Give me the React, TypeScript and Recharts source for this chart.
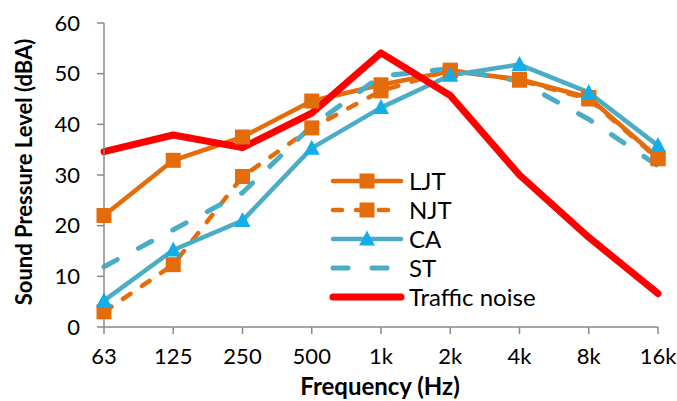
import { Legend, Line, LineChart, XAxis, YAxis } from 'recharts'

const categories = ['63', '125', '250', '500', '1k', '2k', '4k', '8k', '16k']

const ljt = [22.0, 32.9, 37.5, 44.6, 47.8, 50.5, 48.9, 45.3, 33.4]
const njt = [3.0, 12.3, 29.7, 39.3, 46.6, 50.7, 48.7, 45.0, 33.2]
const ca = [5.2, 15.2, 21.0, 35.3, 43.3, 49.7, 51.8, 46.3, 35.8]
const st = [11.9, 19.2, 26.5, 39.7, 49.5, 51.0, 48.5, 41.0, 31.8]
const traffic = [34.6, 37.9, 35.4, 42.2, 54.1, 45.7, 30.0, 17.7, 6.6]

const yTicks = [0, 10, 20, 30, 40, 50, 60]

const ORANGE = '#E46C0A'
const TEAL = '#4BACC6'
const TRI = '#12AEE9'
const RED = '#FF0000'
const AXIS = '#898989'
const FONT = 'Lato, "Open Sans", sans-serif'

const rows = categories.map((freq, i) => ({
  freq,
  LJT: ljt[i],
  NJT: njt[i],
  CA: ca[i],
  ST: st[i],
  Traffic: traffic[i],
}))

type Marker = 'square' | 'triangle' | 'none'

const SERIES: {
  key: string
  name: string
  color: string
  width: number
  dash?: string
  marker: Marker
}[] = [
  { key: 'LJT', name: 'LJT', color: ORANGE, width: 4.5, marker: 'square' },
  { key: 'NJT', name: 'NJT', color: ORANGE, width: 4.5, dash: '9 14', marker: 'square' },
  { key: 'CA', name: 'CA', color: TEAL, width: 4.5, marker: 'triangle' },
  { key: 'ST', name: 'ST', color: TEAL, width: 5, dash: '15 24', marker: 'none' },
  { key: 'Traffic', name: 'Traffic noise', color: RED, width: 7, marker: 'none' },
]

function drawMarker(kind: Marker, cx: number, cy: number, key?: string | number) {
  if (kind === 'square') {
    return <rect key={key} x={cx - 7.5} y={cy - 7.5} width={15} height={15} fill={ORANGE} />
  }
  if (kind === 'triangle') {
    return (
      <polygon
        key={key}
        points={`${cx},${cy - 8.5} ${cx + 8},${cy + 6.5} ${cx - 8},${cy + 6.5}`}
        fill={TRI}
      />
    )
  }
  return <g key={key} />
}

function LegendBox() {
  return (
    <svg width={250} height={150} style={{ overflow: 'visible' }}>
      {SERIES.map((s, i) => {
        const y = 15 + i * 29
        return (
          <g key={s.key}>
            <line
              x1={5}
              x2={73}
              y1={y}
              y2={y}
              stroke={s.color}
              strokeWidth={s.width}
              strokeDasharray={s.dash}
              strokeLinecap="round"
            />
            {drawMarker(s.marker, 39, y)}
            <text x={81} y={y} dy="0.36em" fontFamily={FONT} fontSize={24} fill="#000">
              {s.name}
            </text>
          </g>
        )
      })}
    </svg>
  )
}

export default function App() {
  return (
    <div style={{ position: 'absolute', left: 0, top: 0, background: '#fff' }}>
      <LineChart
        width={677}
        height={401}
        data={rows}
        margin={{ top: 23, right: 19, bottom: 0, left: 0 }}
      >
        <XAxis
          dataKey="freq"
          height={74}
          axisLine={{ stroke: AXIS, strokeWidth: 1.5 }}
          tickLine={{ stroke: AXIS, strokeWidth: 1.5 }}
          tickSize={7}
          tickMargin={14}
          tick={{ fill: '#000', fontSize: 22, fontFamily: FONT }}
          interval={0}
          label={() => (
            <text
              x={380}
              y={395}
              textAnchor="middle"
              fill="#000"
              fontSize={24}
              fontWeight={700}
              fontFamily={FONT}
            >
              Frequency (Hz)
            </text>
          )}
        />
        <YAxis
          width={104}
          domain={[0, 60]}
          ticks={yTicks}
          interval={0}
          axisLine={{ stroke: AXIS, strokeWidth: 1.5 }}
          tickLine={{ stroke: AXIS, strokeWidth: 1.5 }}
          tickSize={7}
          tickMargin={17}
          tick={{ fill: '#000', fontSize: 22, fontFamily: FONT }}
          label={() => (
            <text
              x={24}
              y={172}
              transform="rotate(-90 24 172)"
              textAnchor="middle"
              dy="0.36em"
              fill="#000"
              fontSize={22}
              fontWeight={700}
              fontFamily={FONT}
            >
              Sound Pressure Level (dBA)
            </text>
          )}
        />
        <Legend
          layout="vertical"
          align="center"
          verticalAlign="middle"
          wrapperStyle={{ left: 328, top: 166, width: 250 }}
          content={() => <LegendBox />}
        />
        {SERIES.map((s) => (
          <Line
            key={s.key}
            dataKey={s.key}
            name={s.name}
            type="linear"
            stroke={s.color}
            strokeWidth={s.width}
            strokeDasharray={s.dash}
            strokeLinecap="round"
            strokeLinejoin="round"
            isAnimationActive={false}
            dot={
              s.marker === 'none'
                ? false
                : (p: any) => drawMarker(s.marker, p.cx, p.cy, `${s.key}-${p.index}`)
            }
            activeDot={false}
          />
        ))}
      </LineChart>
    </div>
  )
}
